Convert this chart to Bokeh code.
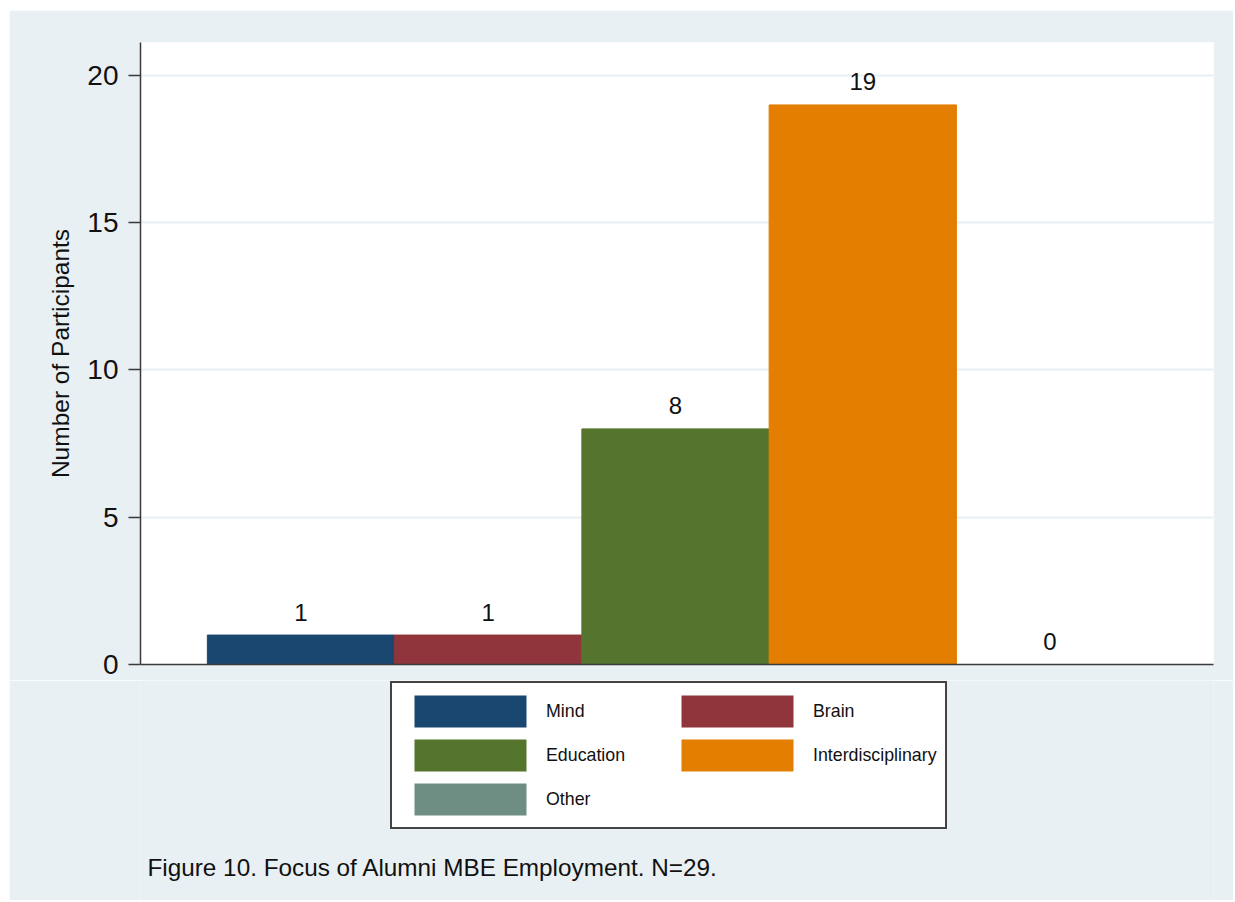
from bokeh.plotting import figure
from bokeh.models import Range1d, FixedTicker, Legend, LegendItem, Label
from bokeh.layouts import column
from bokeh.embed import file_html
from bokeh.resources import INLINE
from bokeh.core.properties import value

categories = ["Mind", "Brain", "Education", "Interdisciplinary", "Other"]
counts = [1, 1, 8, 19, 0]
colors = ["#1a476f", "#90353b", "#55752f", "#e37e00", "#6e8e84"]
y_ticks = [0, 5, 10, 15, 20]
y_title = "Number of Participants"
caption = "Figure 10. Focus of Alumni MBE Employment. N=29."

FONT = "Liberation Sans"
BG = "#e9f0f3"
INK = "#111111"

# ---------- main chart ----------
p = figure(width=1224, height=670, output_backend="svg", toolbar_location=None,
           x_range=Range1d(0.143, 5.873), y_range=Range1d(0, 21.12),
           margin=(10, 2, 0, 9),
           min_border_left=131, min_border_right=20, min_border_top=32, min_border_bottom=16)
p.background_fill_color = "white"
p.border_fill_color = BG
p.outline_line_color = None

for i, (val, col) in enumerate(zip(counts, colors)):
    p.vbar(x=[i + 1], top=[val], width=1.0, bottom=0, fill_color=col, line_color=col, line_width=1)

p.text(x=[i + 1 for i in range(len(counts))], y=counts, text=[str(v) for v in counts],
       text_font=value(FONT), text_font_size="24px", text_color=INK,
       text_align="center", text_baseline="alphabetic", y_offset=-23)

p.xaxis.ticker = FixedTicker(ticks=[])
p.xaxis.major_label_text_font_size = "0px"
p.xaxis.major_tick_out = 0
p.xaxis.major_tick_in = 0
p.xaxis.minor_tick_out = 0
p.xaxis.minor_tick_in = 0
p.xaxis.axis_line_color = "#3a3a3a"
p.xaxis.axis_line_width = 1.5

p.yaxis.ticker = FixedTicker(ticks=y_ticks)
p.yaxis.major_tick_out = 12
p.yaxis.major_tick_in = 0
p.yaxis.minor_tick_out = 0
p.yaxis.minor_tick_in = 0
p.yaxis.major_tick_line_color = "#3a3a3a"
p.yaxis.major_tick_line_width = 1.5
p.yaxis.axis_line_color = "#3a3a3a"
p.yaxis.axis_line_width = 1.5
p.yaxis.major_label_text_font = FONT
p.yaxis.major_label_text_font_size = "28px"
p.yaxis.major_label_text_color = INK
p.yaxis.major_label_standoff = 10
p.yaxis.axis_label = y_title
p.yaxis.axis_label_text_font = FONT
p.yaxis.axis_label_text_font_size = "24.5px"
p.yaxis.axis_label_text_font_style = "normal"
p.yaxis.axis_label_text_color = INK
p.yaxis.axis_label_standoff = 10

p.xgrid.grid_line_color = None
p.ygrid.ticker = FixedTicker(ticks=y_ticks[1:])
p.ygrid.grid_line_color = BG
p.ygrid.grid_line_width = 2

# ---------- legend + caption strip ----------
q = figure(width=1224, height=220, output_backend="svg", toolbar_location=None,
           x_range=Range1d(0, 10), y_range=Range1d(1, 2),
           x_axis_location=None, y_axis_location=None,
           margin=(0, 2, 2, 9),
           min_border_left=0, min_border_right=0, min_border_top=0, min_border_bottom=0)
q.background_fill_color = BG
q.border_fill_color = BG
q.outline_line_color = None
q.grid.grid_line_color = None

# legend proxies: zero-height bars (below the visible y range) carrying each category's colour
items = []
for i, (cat, col) in enumerate(zip(categories, colors)):
    r = q.vbar(x=[i + 1], top=[0], bottom=[0], width=0.5, fill_color=col, line_color=col, line_alpha=0)
    items.append(LegendItem(label=cat, renderers=[r]))

legend = Legend(items=items, orientation="horizontal", ncols=2, location=(250, 71),
                glyph_width=140, glyph_height=40, label_standoff=6, spacing=4,
                padding=8, label_width=117, margin=0,
                label_text_font=FONT, label_text_font_size="17.8px", label_text_color=INK,
                border_line_color="#444444", border_line_width=2, border_line_alpha=1.0,
                background_fill_color="white", background_fill_alpha=1.0)
q.add_layout(legend, "center")

q.add_layout(Label(x=7, y=33, x_units="screen", y_units="screen", text=caption,
                   text_font=FONT, text_font_size="24.3px", text_color=INK,
                   text_baseline="alphabetic", text_align="left"))

layout = column(p, q, spacing=0)
open("out.html", "w").write(file_html(layout, INLINE))
